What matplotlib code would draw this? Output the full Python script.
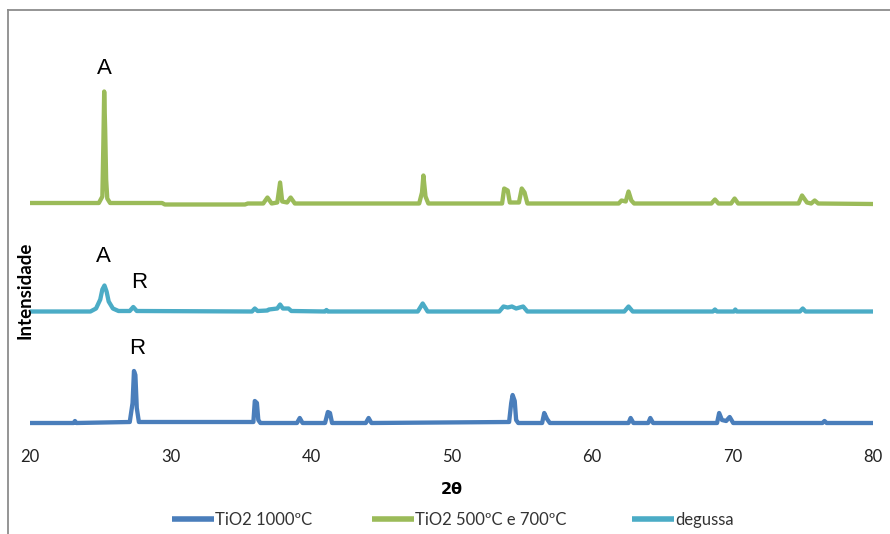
import matplotlib
matplotlib.use("Agg")
import matplotlib.pyplot as plt
from matplotlib.lines import Line2D

# ---- data (2theta, relative intensity) ----
blue_x = [20, 23.1, 23.2, 23.3, 27.1, 27.3, 27.4, 27.5, 27.6, 27.75, 35.9, 36.0, 36.15, 36.25, 36.4,
          39.0, 39.2, 39.4, 41.0, 41.2, 41.35, 41.5, 43.9, 44.1, 44.3, 54.1, 54.25, 54.35, 54.5, 54.6,
          54.75, 56.45, 56.6, 56.8, 57.0, 62.6, 62.75, 62.95, 64.0, 64.15, 64.35, 68.9, 69.05, 69.25,
          69.55, 69.8, 70.05, 76.4, 76.55, 76.7, 80]
blue_y = [0, 0, 2, 0, 1, 20, 52, 48, 15, 1, 1, 22, 20, 3, 0,
          0, 5, 0, 0, 11, 10, 0, 0, 5, 0, 1, 20, 28, 22, 3,
          0, 0, 10, 4, 0, 0, 5, 0, 0, 5, 0, 0, 10, 3,
          2, 6, 0, 0, 2, 0, 0]

green_x = [20, 24.9, 25.15, 25.22, 25.28, 25.35, 25.42, 25.5, 25.7, 29.4, 29.6, 35.3, 35.5, 36.6, 36.9,
           37.2, 37.6, 37.8, 37.95, 38.3, 38.55, 38.85, 47.7, 47.9, 48.0, 48.15, 48.35, 53.6, 53.75,
           54.0, 54.15, 54.8, 55.0, 55.2, 55.4, 61.9, 62.1, 62.4, 62.6, 62.8, 63.0, 68.5, 68.75, 69.0,
           69.9, 70.15, 70.4, 74.7, 74.95, 75.3, 75.6, 75.85, 76.1, 80]
green_y = [1.5, 1.5, 8, 60, 113, 75, 25, 6, 1.5, 1.5, 0, 0, 1, 1, 7,
           1, 2, 22, 3, 2, 7, 1, 1, 12, 29, 8, 1, 1, 16,
           14, 2, 2, 16, 12, 1, 1, 4, 3, 13, 4, 1, 1, 5, 1,
           1, 6, 1, 1, 9, 2, 1, 4, 1, 0.5]

cyan_x = [20, 24.3, 24.7, 25.0, 25.15, 25.3, 25.45, 25.6, 25.9, 26.3, 27.1, 27.35, 27.6, 35.8, 36.0,
          36.2, 36.9, 37.0, 37.6, 37.8, 38.0, 38.4, 38.6, 41.0, 41.1, 41.2, 47.6, 47.95, 48.3, 53.4,
          53.7, 54.0, 54.3, 54.6, 55.1, 55.4, 62.3, 62.6, 62.9, 68.6, 68.75, 68.9, 70.1, 70.2, 70.3,
          74.8, 75.0, 75.2, 80]
cyan_y = [0, 0, 3, 12, 22, 26, 20, 10, 3, 0.5, 0.5, 4.5, 0.5, 0, 3,
          0.5, 1, 2, 3, 7, 3, 3, 0.5, 0, 1.5, 0, 0, 8, 0, 0,
          5, 4, 5, 3, 5, 0, 0, 5, 0, 0, 2, 0, 0, 2, 0,
          0, 3, 0, 0]

series_names = ["TiO2 1000ºC", "TiO2 500ºC e 700ºC", "degussa"]
series_offsets = [0, 218.5, 111.5]
x_ticks = [20, 30, 40, 50, 60, 70, 80]

colors = ["#4A7EBB", "#9BBB59", "#4BACC6"]

W, H = 890, 534
fig = plt.figure(figsize=(W / 100, H / 100), dpi=100)
plt.rcParams['font.family'] = ['Lato', 'DejaVu Sans']

def fx(px):
    return px / W

def fy(py):
    return 1 - py / H

ax_left, ax_right, ax_top, ax_bot = 30, 873, 20, 434
ax = fig.add_axes([fx(ax_left), fy(ax_bot), (ax_right - ax_left) / W, (ax_bot - ax_top) / H])

xs = [blue_x, green_x, cyan_x]
ys = [blue_y, green_y, cyan_y]
handles = []
for x, y, off, c, name in zip(xs, ys, series_offsets, colors, series_names):
    h, = ax.plot(x, [v + off for v in y], color=c, lw=3.1, label=name, solid_joinstyle='round',
                 solid_capstyle='butt')
    handles.append(h)

ax.set_xlim(20, 80)
ax.set_ylim(423 - ax_bot, 423 - ax_top)
for s in ax.spines.values():
    s.set_visible(False)
ax.set_yticks([])
ax.set_xticks(x_ticks)
ax.tick_params(axis='x', length=0, pad=11, labelsize=12, labelcolor='#222222')

ax.set_xlabel("2θ", fontsize=11.5, fontweight='bold', labelpad=12, family=['DejaVu Sans'])
fig.text(fx(25), fy(290), "Intensidade", rotation=90, ha='center', va='center',
         fontsize=13.5, fontweight='bold')

# annotations
ax.text(25.3, 423 - 68, "A", ha='center', va='center', fontsize=16, family=['Liberation Sans'])
ax.text(25.2, 423 - 256, "A", ha='center', va='center', fontsize=16, family=['Liberation Sans'])
ax.text(27.75, 423 - 283, "R", ha='center', va='center', fontsize=16, family=['Liberation Sans'])
ax.text(27.65, 423 - 348, "R", ha='center', va='center', fontsize=16, family=['Liberation Sans'])

# legend entries placed individually (one legend per entry)
legend_starts = [172, 372, 632]
for h, x0 in zip(handles, legend_starts):
    leg = fig.legend(handles=[h], labels=[h.get_label()], loc='center left',
                     bbox_to_anchor=(fx(x0), fy(520)), frameon=False, borderpad=0,
                     borderaxespad=0, fontsize=12, handlelength=2.5, handletextpad=0.1)
    for t in leg.get_texts():
        t.set_color('#333333')
    for l in leg.get_lines():
        l.set_linewidth(4)

# outer chart border (left and top)
fig.add_artist(Line2D([fx(8), fx(8)], [fy(10), 0], color='#8c8c8c', lw=1.3, transform=fig.transFigure))
fig.add_artist(Line2D([fx(8), 1], [fy(10), fy(10)], color='#8c8c8c', lw=1.3, transform=fig.transFigure))

fig.savefig("out.png", dpi=100)
